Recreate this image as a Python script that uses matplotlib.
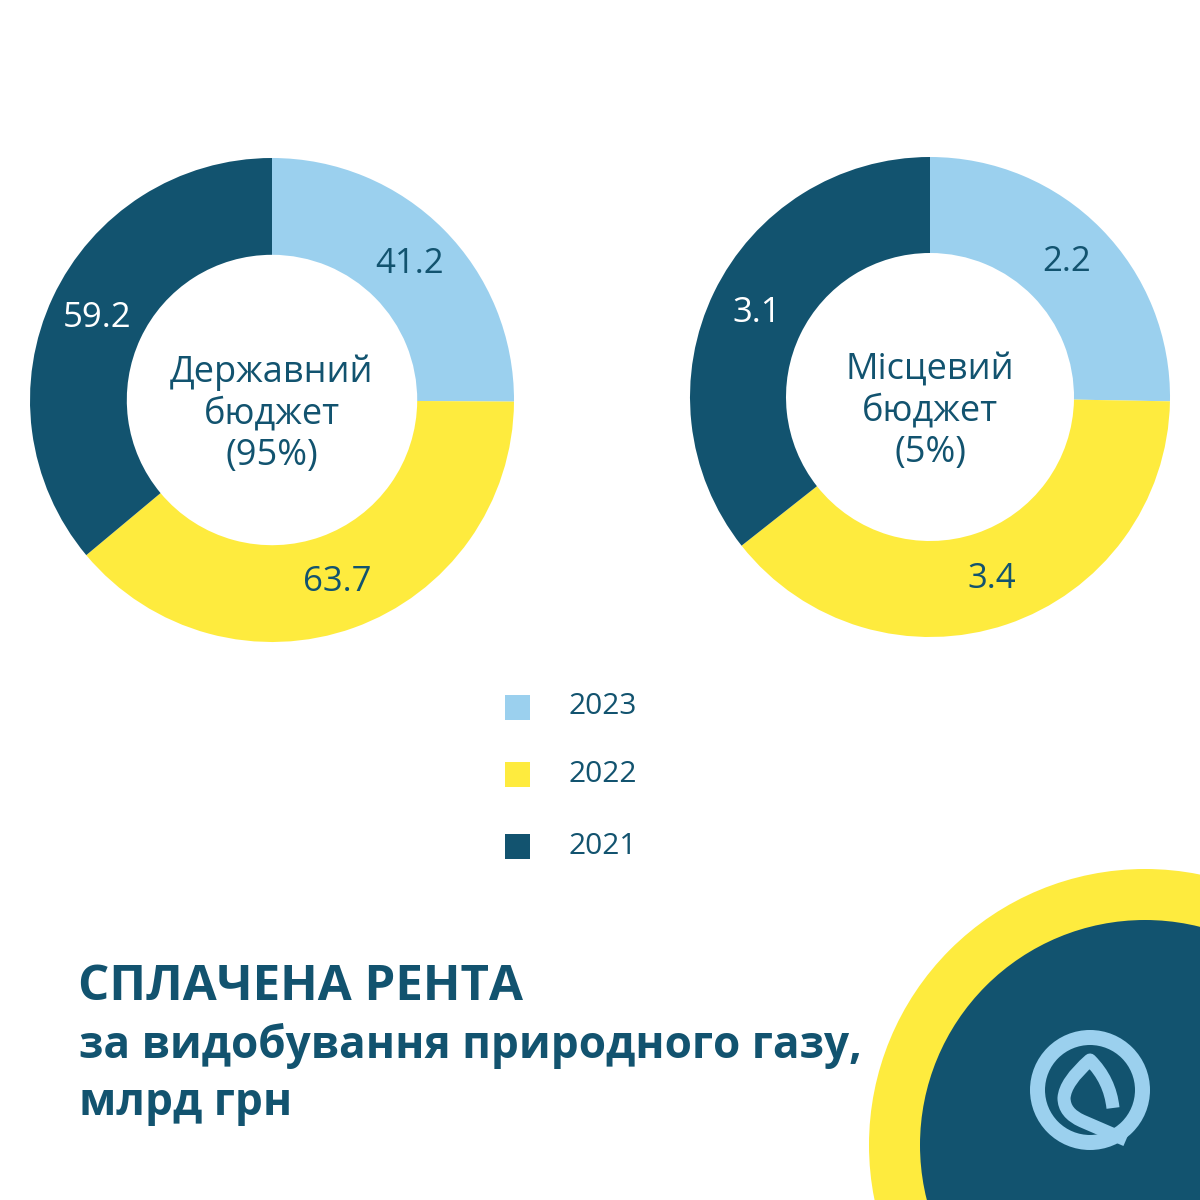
import matplotlib.pyplot as plt
from matplotlib.patches import Circle, Rectangle, PathPatch
from matplotlib.path import Path

years = ['2023', '2022', '2021']
state_budget = [41.2, 63.7, 59.2]
local_budget = [2.2, 3.4, 3.1]
state_title = 'Державний\nбюджет\n(95%)'
local_title = 'Місцевий\nбюджет\n(5%)'
title = 'СПЛАЧЕНА РЕНТА'
subtitle = 'за видобування природного газу,\nмлрд грн'

LIGHT = '#9bd0ee'
YELLOW = '#feeb3e'
DARK = '#12536f'
colors = [LIGHT, YELLOW, DARK]
label_colors = [DARK, DARK, 'white']

plt.rcParams['font.family'] = ['Open Sans', 'DejaVu Sans']

W = H = 1200
fig = plt.figure(figsize=(12, 12), dpi=100)
fig.patch.set_facecolor('white')

# background axes in pixel coordinates (y down)
bg = fig.add_axes([0, 0, 1, 1])
bg.set_xlim(0, W)
bg.set_ylim(H, 0)
bg.axis('off')


def donut(cx, cy, r, values, center_text):
    ax = fig.add_axes([(cx - r) / W, 1 - (cy + r) / H, 2 * r / W, 2 * r / H])
    wedges, texts = ax.pie(values, colors=colors, startangle=90, counterclock=False,
                           labels=[f'{v:.1f}' for v in values], labeldistance=0.8,
                           wedgeprops=dict(width=0.4, linewidth=0),
                           textprops=dict(fontsize=25))
    for t, c in zip(texts, label_colors):
        t.set_ha('center')
        t.set_va('center')
        t.set_color(c)
    ax.text(0, -0.06, center_text, ha='center', va='center', fontsize=26,
            color=DARK, linespacing=1.2)
    ax.set_xlim(-1, 1)
    ax.set_ylim(-1, 1)
    ax.set_aspect('equal')
    ax.axis('off')


donut(272, 400, 242, state_budget, state_title)
donut(930, 397, 240, local_budget, local_title)

# legend
for i, (yr, c) in enumerate(zip(years, colors)):
    y = [707, 774, 846][i]
    bg.add_patch(Rectangle((505, y - 12), 25, 25, color=c, lw=0))
    bg.text(568, y, yr, fontsize=21.5, color=DARK, ha='left', va='center')

# title block
bg.text(78, 1000, title, fontsize=35.5, fontweight='bold', color=DARK,
        ha='left', va='baseline')
bg.text(79, 1115, subtitle, fontsize=31.8, fontweight='bold', color=DARK,
        ha='left', va='baseline', linespacing=1.35)

# corner decoration
bg.add_patch(Circle((1145, 1145), 276, color=YELLOW, lw=0))
bg.add_patch(Circle((1145, 1145), 225, color=DARK, lw=0))
bg.add_patch(Circle((1090, 1090), 52.5, fill=False, ec=LIGHT, lw=10.8))
drop = Path([(1113, 1108), (1110, 1080), (1090, 1060), (1065, 1082), (1064, 1098),
             (1064, 1113), (1082, 1121), (1126, 1140)],
            [Path.MOVETO, Path.CURVE3, Path.CURVE3, Path.CURVE3, Path.CURVE3,
             Path.CURVE3, Path.CURVE3, Path.LINETO])
bg.add_patch(PathPatch(drop, fill=False, ec=LIGHT, lw=9.4, capstyle='butt',
                       joinstyle='round'))

fig.savefig('out.png', dpi=100, facecolor='white')
